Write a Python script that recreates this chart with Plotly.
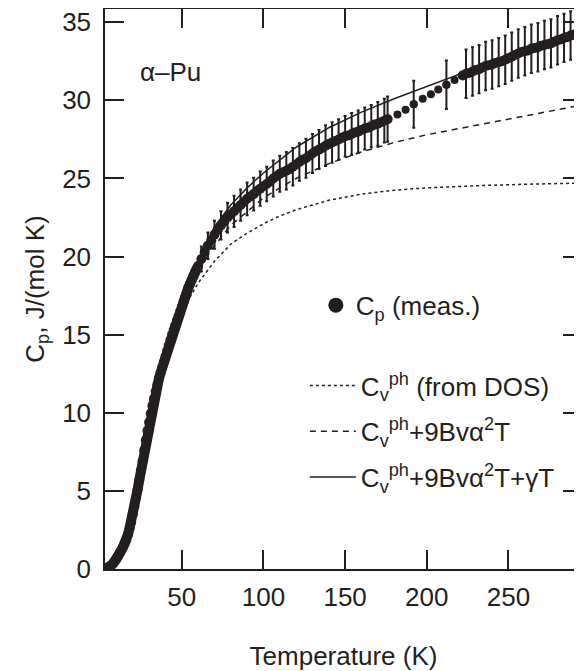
import plotly.graph_objects as go

# measured Cp (J/(mol K)) vs temperature (K)
T_meas = [3, 4, 5, 6, 7, 8, 9, 10, 11, 12, 13, 14, 15, 16, 17, 18, 19, 20, 21, 22,
          23, 24, 25, 26, 27, 28, 29, 30, 31, 32, 33, 34, 35, 36, 37, 38, 39, 40, 41, 42,
          43, 44, 45, 46, 47, 48, 49, 50, 51, 52, 53, 54, 55, 56, 57, 58, 59, 60,
          62, 64, 66, 68, 70, 72, 74, 76, 78, 80, 82, 84, 86, 88, 90, 92, 94, 96, 98, 100,
          102, 104, 106, 108, 110, 112, 114, 116, 118, 120, 122, 124, 126, 128, 130, 132,
          134, 136, 138, 140, 142, 144, 146, 148, 150, 152, 154, 156, 158, 160, 162, 164,
          166, 168, 170, 172, 174, 176,
          182, 187, 192, 197.5, 202.5, 207, 212, 217,
          222, 224, 226, 228, 230, 232, 234, 236, 238, 240, 242, 244, 246, 248, 250, 252,
          254, 256, 258, 260, 262, 264, 266, 268, 270, 272, 274, 276, 278, 280, 282, 284,
          286, 288, 290, 292, 294]
Cp_meas = [0.00, 0.03, 0.08, 0.15, 0.25, 0.36, 0.48, 0.62, 0.80, 1.00, 1.20, 1.40, 1.60, 1.85,
           2.20, 2.60, 3.00, 3.50, 4.00, 4.55, 5.10, 5.70, 6.30, 6.90, 7.60, 8.25, 8.85, 9.40,
           9.95, 10.45, 10.90, 11.35, 11.78, 12.18, 12.55, 12.90, 13.25, 13.60, 13.95, 14.30,
           14.65, 15.00, 15.30, 15.60, 15.90, 16.20, 16.50, 16.80, 17.10, 17.40, 17.70, 18.00,
           18.25, 18.50, 18.75, 19.00, 19.20, 19.40,
           19.85, 20.30, 20.70, 21.05, 21.40, 21.70, 22.00, 22.25, 22.50, 22.70, 22.90, 23.10,
           23.30, 23.50, 23.70, 23.85, 24.00, 24.20, 24.35, 24.50, 24.65, 24.80, 25.00, 25.15,
           25.30, 25.40, 25.50, 25.60, 25.75, 25.90, 26.05, 26.20, 26.30, 26.45, 26.60, 26.75,
           26.85, 26.95, 27.10, 27.20, 27.30, 27.40, 27.50, 27.60, 27.70, 27.75, 27.85, 27.95,
           28.00, 28.10, 28.20, 28.25, 28.35, 28.45, 28.50, 28.60, 28.70, 28.80,
           29.10, 29.40, 29.75, 30.10, 30.40, 30.70, 31.00, 31.30,
           31.60, 31.70, 31.75, 31.85, 31.95, 32.00, 32.10, 32.20, 32.25, 32.30, 32.40, 32.45,
           32.50, 32.60, 32.70, 32.80, 32.90, 33.00, 33.10, 33.15, 33.20, 33.30, 33.35, 33.40,
           33.50, 33.55, 33.60, 33.65, 33.75, 33.85, 33.90, 34.00, 34.05, 34.15, 34.20, 34.30,
           34.40]

# points carrying error bars and their half heights
T_err = [62, 66, 70, 74, 78, 82, 86, 90, 94, 98, 102, 106, 110, 114, 118, 122, 126, 130,
         134, 138, 142, 146, 150, 154, 158, 162, 166, 170, 174, 176, 192, 212,
         224, 228, 232, 236, 240, 244, 248, 252, 256, 260, 264, 268, 272, 276, 280, 284,
         288, 292]
dCp_err = [0.8, 0.85, 0.9, 0.9, 0.95, 1.0, 1.0, 1.05, 1.05, 1.1, 1.1, 1.15, 1.15, 1.2, 1.2,
           1.2, 1.25, 1.25, 1.25, 1.3, 1.3, 1.3, 1.3, 1.35, 1.35, 1.35, 1.35, 1.4, 1.4, 1.45,
           1.5, 1.55,
           1.55, 1.55, 1.55, 1.55, 1.55, 1.55, 1.55, 1.55, 1.55, 1.55, 1.55, 1.55, 1.55, 1.55,
           1.55, 1.55, 1.55, 1.55]

# model curves
T_model = [3, 5, 10, 15, 20, 25, 30, 35, 40, 45, 50, 55, 60, 70, 80, 90, 100, 110, 120,
           140, 160, 180, 200, 220, 240, 260, 280, 300]
Cv_dos = [0.0, 0.1, 0.7, 1.7, 3.4, 6.0, 9.0, 11.6, 13.4, 15.0, 16.3, 17.4, 18.3, 19.7, 20.8,
          21.5, 22.1, 22.6, 23.0, 23.6, 24.0, 24.25, 24.4, 24.5, 24.57, 24.63, 24.68, 24.72]
Cv_anh = [0.0, 0.15, 0.8, 1.85, 3.6, 6.2, 9.3, 12.0, 13.9, 15.5, 16.9, 18.1, 19.1, 20.7, 22.0,
          22.9, 23.75, 24.4, 25.0, 25.95, 26.7, 27.3, 27.8, 28.2, 28.6, 29.0, 29.4, 29.8]
Cv_anh_el = [0.0, 0.2, 0.9, 2.0, 3.8, 6.4, 9.6, 12.4, 14.3, 15.9, 17.4, 18.7, 19.8, 21.9, 23.3,
             24.4, 25.35, 26.2, 27.0, 28.25, 29.25, 30.1, 30.9, 31.65, 32.5, 33.25, 34.0, 34.75]

ink = '#231f20'
font_family = 'Liberation Sans, Arial, Helvetica, sans-serif'
fs = 26

cp_lookup = dict(zip(T_meas, Cp_meas))
# sparse points (180-220 K) are drawn a bit smaller
meas_sizes = [8 if 180 < t < 220 else 10 for t in T_meas]
n_low = sum(1 for t in T_meas if t <= 60)  # densely measured low-T run

fig = go.Figure()

fig.add_trace(go.Scatter(
    x=T_model, y=Cv_dos, mode='lines',
    line=dict(color=ink, width=1.5, dash='dot'),
    name='C<sub>v</sub><sup>ph</sup> (from DOS)', legend='legend2', legendgroup='a',
))
fig.add_trace(go.Scatter(
    x=T_model, y=Cv_anh, mode='lines',
    line=dict(color=ink, width=1.5, dash='6px,5px'),
    name='C<sub>v</sub><sup>ph</sup>+9Bvα<sup>2</sup>T', legend='legend2', legendgroup='b',
))
fig.add_trace(go.Scatter(
    x=T_model, y=Cv_anh_el, mode='lines',
    line=dict(color=ink, width=1.5),
    name='C<sub>v</sub><sup>ph</sup>+9Bvα<sup>2</sup>T+γT', legend='legend2', legendgroup='c',
))

# error bars
fig.add_trace(go.Scatter(
    x=T_err, y=[cp_lookup[t] for t in T_err], mode='markers',
    marker=dict(size=8, color=ink, opacity=1, line=dict(width=0)),
    error_y=dict(type='data', array=dCp_err, visible=True, color=ink, thickness=2, width=1.5),
    showlegend=False,
))
# the low-T points overlap into a solid band
fig.add_trace(go.Scatter(
    x=T_meas[:n_low], y=Cp_meas[:n_low], mode='lines',
    line=dict(color=ink, width=10),
    showlegend=False,
))
# measured points
fig.add_trace(go.Scatter(
    x=T_meas, y=Cp_meas, mode='markers',
    marker=dict(size=meas_sizes, color=ink, opacity=1, line=dict(width=0)),
    showlegend=False,
))
# legend entry for measured points
fig.add_trace(go.Scatter(
    x=[None], y=[None], mode='markers',
    marker=dict(size=15, color=ink, opacity=1, line=dict(width=0)),
    name='C<sub>p</sub> (meas.)', legend='legend',
))
# right-side ticks
fig.add_trace(go.Scatter(x=[None], y=[None], yaxis='y2', showlegend=False))

fig.add_annotation(
    x=23, y=31.8, xref='x', yref='y', text='α–Pu', showarrow=False,
    xanchor='left', font=dict(size=fs, color=ink),
)

axis_common = dict(
    showline=True, linecolor=ink, linewidth=1.5,
    ticks='inside', ticklen=19, tickwidth=1.5, tickcolor=ink,
    showgrid=False, zeroline=False, ticklabeloverflow='allow',
    tickfont=dict(size=fs, color=ink),
)

fig.update_layout(
    width=574, height=663,
    margin=dict(l=97, r=0, t=1, b=102),
    paper_bgcolor='white', plot_bgcolor='white',
    font=dict(family=font_family, color=ink, size=fs),
    xaxis=dict(
        range=[3, 295], tickvals=[50, 100, 150, 200, 250], mirror='ticks',
        ticklabelstandoff=4,
        title=dict(text='Temperature (K)', font=dict(size=fs), standoff=36),
        **axis_common,
    ),
    yaxis=dict(
        range=[0, 35.85], tickvals=[0, 5, 10, 15, 20, 25, 30, 35],
        ticklabelstandoff=7,
        title=dict(text='C<sub>p</sub>, J/(mol K)', font=dict(size=fs), standoff=10),
        **axis_common,
    ),
    yaxis2=dict(
        overlaying='y', side='right', range=[0, 35.85],
        tickvals=[0, 5, 10, 15, 20, 25, 30, 35], showticklabels=False,
        ticks='inside', ticklen=19, tickwidth=1.5, tickcolor=ink,
        showline=False, showgrid=False, zeroline=False,
    ),
    legend=dict(
        x=0.442, y=0.471, xanchor='left', yanchor='middle',
        bgcolor='rgba(0,0,0,0)', font=dict(size=fs, color=ink),
        itemwidth=30,
    ),
    legend2=dict(
        x=0.419, y=0.2455, xanchor='left', yanchor='middle',
        bgcolor='rgba(0,0,0,0)', font=dict(size=fs, color=ink),
        itemwidth=46, tracegroupgap=9,
    ),
)

fig.write_html('out.html')
